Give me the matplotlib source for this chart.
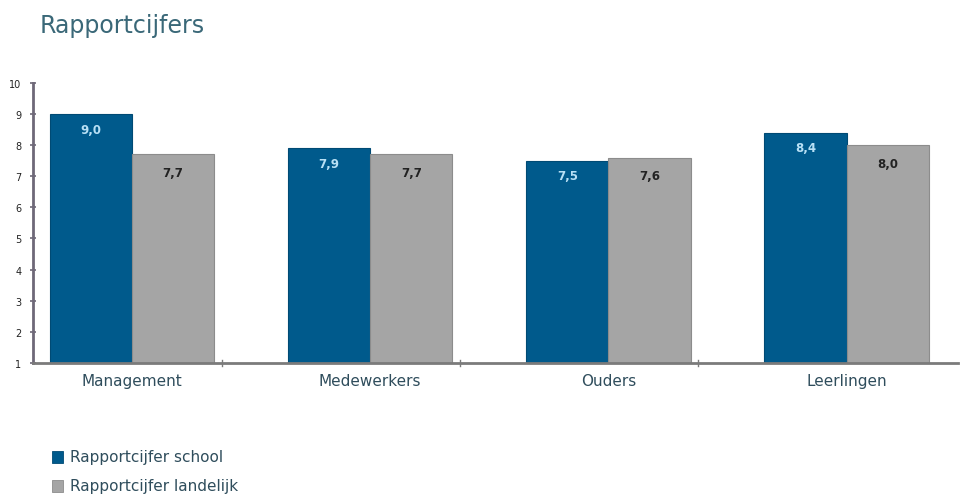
import numpy as np
import matplotlib.pyplot as plt
from matplotlib.patches import Rectangle

# --- data ---
categories = ['Management', 'Medewerkers', 'Ouders', 'Leerlingen']
school = [9.0, 7.9, 7.5, 8.4]
landelijk = [7.7, 7.7, 7.6, 8.0]
series_names = ['Rapportcijfer school', 'Rapportcijfer landelijk']
y_ticks = [1, 2, 3, 4, 5, 6, 7, 8, 9, 10]

# --- style ---
BLUE = '#005a8c'
GREY = '#a5a5a5'
GREY_EDGE = '#8c8c8c'
TEXT = '#2f4d5c'
AXIS_Y = '#6e6878'
AXIS_X = '#7b7b7b'

plt.rcParams['font.family'] = ['DejaVu Sans']

fig = plt.figure(figsize=(9.62, 5.02), dpi=100)
ax = fig.add_axes([0.0343, 0.275, 0.962, 0.558])

x = np.arange(len(categories))
w = 0.345
b1 = ax.bar(x - w / 2, np.array(school) - 1, w, bottom=1, color=BLUE,
            edgecolor='#004a74', linewidth=0.8, zorder=2)
b2 = ax.bar(x + w / 2, np.array(landelijk) - 1, w, bottom=1, color=GREY,
            edgecolor=GREY_EDGE, linewidth=0.8, zorder=2)

# waarden in de balken, met komma
for rect, v in zip(b1, school):
    ax.annotate(f'{v:.1f}'.replace('.', ','),
                (rect.get_x() + rect.get_width() / 2, rect.get_y() + rect.get_height()),
                xytext=(0, -11), textcoords='offset points', ha='center', va='center',
                fontsize=8.5, color='#b8e0f5', fontweight='semibold')
for rect, v in zip(b2, landelijk):
    ax.annotate(f'{v:.1f}'.replace('.', ','),
                (rect.get_x() + rect.get_width() / 2, rect.get_y() + rect.get_height()),
                xytext=(0, -13), textcoords='offset points', ha='center', va='center',
                fontsize=8.5, color='#222222', fontweight='semibold')

ax.set_xlim(-0.416, 3.47)
ax.set_ylim(1, 10)
ax.set_yticks(y_ticks)
ax.set_yticklabels([str(t) for t in y_ticks], fontsize=7, color='#222222')
ax.set_xticks(x)
ax.set_xticklabels(categories, fontsize=11, color=TEXT)
ax.tick_params(axis='x', length=0, pad=7)
ax.tick_params(axis='y', direction='inout', length=5, width=1.2, color=AXIS_Y, pad=6)

# scheidingsstreepjes op de x-as
for sx in x[:-1] + 0.378:
    ax.plot([sx, sx], [0.9, 1.1], color=AXIS_X, lw=1, clip_on=False, zorder=3)

for s in ['top', 'right']:
    ax.spines[s].set_visible(False)
ax.spines['left'].set_color(AXIS_Y)
ax.spines['left'].set_linewidth(2)
ax.spines['bottom'].set_color(AXIS_X)
ax.spines['bottom'].set_linewidth(2)

fig.text(0.0415, 0.948, 'Rapportcijfers', fontsize=17, color='#3a6878',
         ha='left', va='center')

# legenda
for i, (name, col, ec) in enumerate(zip(series_names, [BLUE, GREY], ['#004a74', GREY_EDGE])):
    yy = 1 - (458 + 29 * i) / 502
    fig.patches.append(Rectangle((52 / 962, yy - 6 / 502), 11 / 962, 12 / 502,
                                 transform=fig.transFigure, facecolor=col,
                                 edgecolor=ec, linewidth=0.6))
    fig.text(70 / 962, yy, name, fontsize=11, color=TEXT, ha='left', va='center')

fig.savefig('out.png', dpi=100)
